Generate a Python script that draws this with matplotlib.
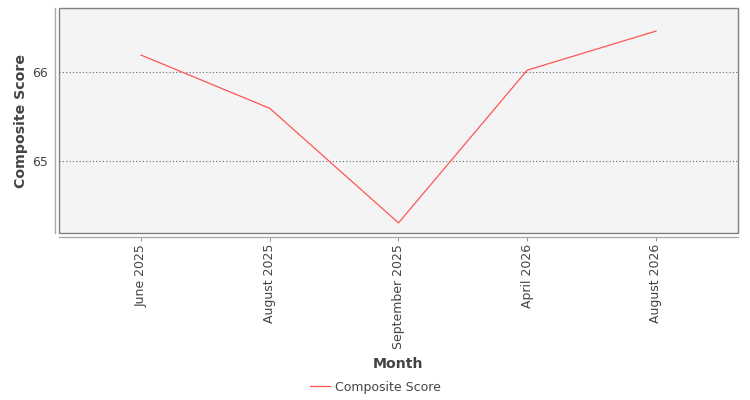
import matplotlib
matplotlib.use("Agg")
import matplotlib.pyplot as plt
from matplotlib.patches import Rectangle

months = ["June 2025", "August 2025", "September 2025", "April 2026", "August 2026"]
scores = [66.19, 65.59, 64.30, 66.02, 66.46]
y_ticks = [65, 66]
series_name = "Composite Score"

W, H = 750, 400
fig = plt.figure(figsize=(W / 100, H / 100), dpi=100)
fig.patch.set_facecolor("white")
left, right, top, bottom = 59, 738, 8, 233
ax = fig.add_axes([left / W, 1 - bottom / H, (right - left) / W, (bottom - top) / H])
ax.set_facecolor("#f4f4f4")

for s in ("top", "right"):
    ax.spines[s].set_visible(False)
for s in ("left", "bottom"):
    ax.spines[s].set_position(("outward", 3))
    ax.spines[s].set_color("#aaaaaa")
    ax.spines[s].set_linewidth(1.0)

x = list(range(len(months)))
ax.plot(x, scores, color="#ff5555", linewidth=0.9, label=series_name)

ax.set_xlim(-0.637, len(months) - 1 + 0.637)
ax.set_ylim(64.186, 66.72)

ax.set_xticks(x)
ax.set_xticklabels(months, rotation=90, fontsize=9, color="#444444")
ax.set_yticks(y_ticks)
ax.set_yticklabels([str(v) for v in y_ticks], fontsize=9, color="#444444")
ax.tick_params(axis="x", length=3, width=0.8, color="#999999", pad=2)
ax.tick_params(axis="y", length=0, pad=5)

ax.grid(axis="y", color="#666666", linestyle=(0, (1, 2)), linewidth=0.8)
ax.grid(axis="x", visible=False)

frame = Rectangle((0, 0), 1, 1, transform=ax.transAxes, fill=False,
                  edgecolor="#808080", linewidth=1.0, clip_on=False, zorder=5)
ax.add_patch(frame)

ax.set_xlabel("Month", fontsize=10.2, fontweight="bold", color="#444444")
ax.set_ylabel("Composite Score", fontsize=10.2, fontweight="bold", color="#444444")
ax.xaxis.label.set_va("center")
ax.yaxis.label.set_va("center")
ax.xaxis.set_label_coords(0.5, (36 - (H - bottom)) / (bottom - top))
ax.yaxis.set_label_coords((21 - left) / (right - left), 0.5)

fig.legend(loc="center", bbox_to_anchor=(0.5, 1 - 387 / H), frameon=False,
           fontsize=9, handlelength=1.6, handletextpad=0.4, labelcolor="#444444")

fig.savefig("out.png", dpi=100)
